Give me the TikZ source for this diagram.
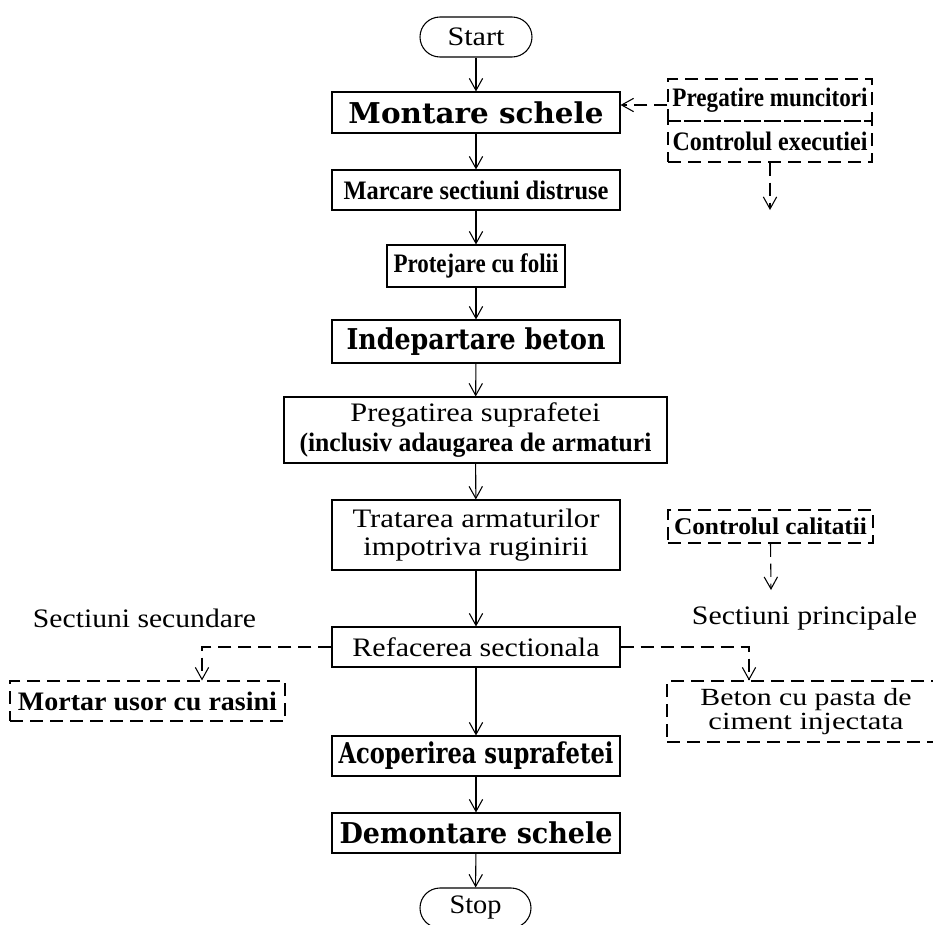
\documentclass[tikz,border=0pt]{standalone}
\usepackage{fontspec}
\setmainfont{Liberation Serif}
\newfontfamily\wideb{DejaVu Serif}
\usetikzlibrary{arrows.meta}
% stretch or squeeze a line of text horizontally to a width given in px (1px = 0.75pt)
\newcommand\hfit[2]{\resizebox{\dimexpr #1pt*3/4\relax}{\height}{#2}}
% two centred lines with a fixed distance between their baselines
\newcommand\twolines[3]{\vbox{\baselineskip=#1\lineskiplimit=-50pt\lineskip=0pt
  \halign{\hfil##\hfil\cr #2\cr #3\cr}}}
\begin{document}
\begin{tikzpicture}[x=0.75pt,y=-0.75pt,line width=0.8pt,
  >={Straight Barb[length=9pt,width=10pt]},
  sz/.style 2 args={minimum width=#1*0.75pt,minimum height=#2*0.75pt},
  box/.style={draw,inner sep=0pt},
  dashbox/.style={box,dash pattern=on 10pt off 5pt},
  term/.style={box,rounded corners=15pt},
  flow/.style={->},
  dflow/.style={->,dash pattern=on 10pt off 5pt},
  reg/.style={font=\fontsize{20}{24}\selectfont},
  cond/.style={font=\fontsize{20}{24}\selectfont\bfseries},
  wide/.style={font=\wideb\fontsize{21.5}{26}\selectfont\bfseries}]
\useasboundingbox (0,0) rectangle (933,925);

% main column
\node[term,reg,sz={112}{40}] (start) at (476,37) {\hfit{57}{Start}};
\node[box,wide,sz={288}{41}] (montare) at (476,112.5) {\hfit{255}{Montare schele}};
\node[box,cond,sz={288}{40}] (marcare) at (476,190) {\hfit{265}{Marcare sectiuni distruse}};
\node[box,cond,sz={178}{42}] (protejare) at (476,266) {\hfit{165}{Protejare cu folii}};
\node[box,wide,sz={288}{43}] (indep) at (476,341.5) {\hfit{259}{Indepartare beton}};
\node[box,reg,sz={383}{66}] (pregatire) at (475.5,430)
  {\twolines{22pt}{\hfit{250}{Pregatirea suprafetei}}{\hfit{352}{\bfseries (inclusiv adaugarea de armaturi}}};
\node[box,reg,sz={288}{70}] (tratare) at (476,535)
  {\twolines{21pt}{\hfit{247}{Tratarea armaturilor}}{\hfit{225}{impotriva ruginirii}}};
\node[box,reg,sz={288}{40}] (refacere) at (476,647) {\hfit{247}{Refacerea sectionala}};
\node[box,wide,sz={288}{40}] (acoperire) at (476,756) {\hfit{275}{Acoperirea suprafetei}};
\node[box,wide,sz={288}{40}] (demontare) at (476,833) {\hfit{273}{Demontare schele}};
\node[term,reg,sz={111}{40}] (stop) at (475.5,908) {\hfit{52}{Stop}};

% side boxes
\node[dashbox,cond,sz={204}{42}] (pm) at (770,100) {\hfit{195}{Pregatire muncitori}};
\node[dashbox,cond,sz={204}{41}] (ce) at (770,141.5) {\hfit{195}{Controlul executiei}};
\node[dashbox,font=\fontsize{18}{22}\selectfont\bfseries,sz={205}{33}] (cc) at (770.5,526.5) {\hfit{193}{Controlul calitatii}};
\node[dashbox,cond,sz={275}{40}] (mortar) at (147.5,701) {\hfit{259}{Mortar usor cu rasini}};
\node[dashbox,font=\fontsize{18.5}{22}\selectfont,sz={278}{61}] (beton) at (806,711.5)
  {\twolines{18pt}{\hfit{211}{Beton cu pasta de}}{\hfit{195}{ciment injectata}}};

% labels
\node[reg] (ssec) at (144.5,618) {\hfit{223}{Sectiuni secundare}};
\node[reg] (sprin) at (804.5,618) {\hfit{225}{Sectiuni principale}};

% main flow
\draw[flow] (start) -- (montare);
\draw[flow] (montare) -- (marcare);
\draw[flow] (marcare) -- (protejare);
\draw[flow] (protejare) -- (indep);
\draw[flow] (indep) -- (pregatire);
\draw[flow] (pregatire) -- (tratare);
\draw[flow] (tratare) -- (refacere);
\draw[flow] (refacere) -- (acoperire);
\draw[flow] (acoperire) -- (demontare);
\draw[flow] (demontare) -- (stop);

% dashed links
\coordinate (pmin) at ([yshift=-3.75pt]pm.west);
\draw[dflow] (pmin) -- (pmin -| montare.east);
\coordinate (ceout) at (770,210);
\draw[dflow] (ce.south) -- (ceout);
\coordinate (ccout) at (771,590);
\draw[dflow] (cc.south) -- (ccout);
\coordinate (lcorner) at (202,646);
\coordinate (rcorner) at (749,646);
\draw[dflow] (refacere.west) -| (mortar.north -| lcorner);
\draw[dflow] (refacere.east) -| (beton.north -| rcorner);
\end{tikzpicture}
\end{document}
